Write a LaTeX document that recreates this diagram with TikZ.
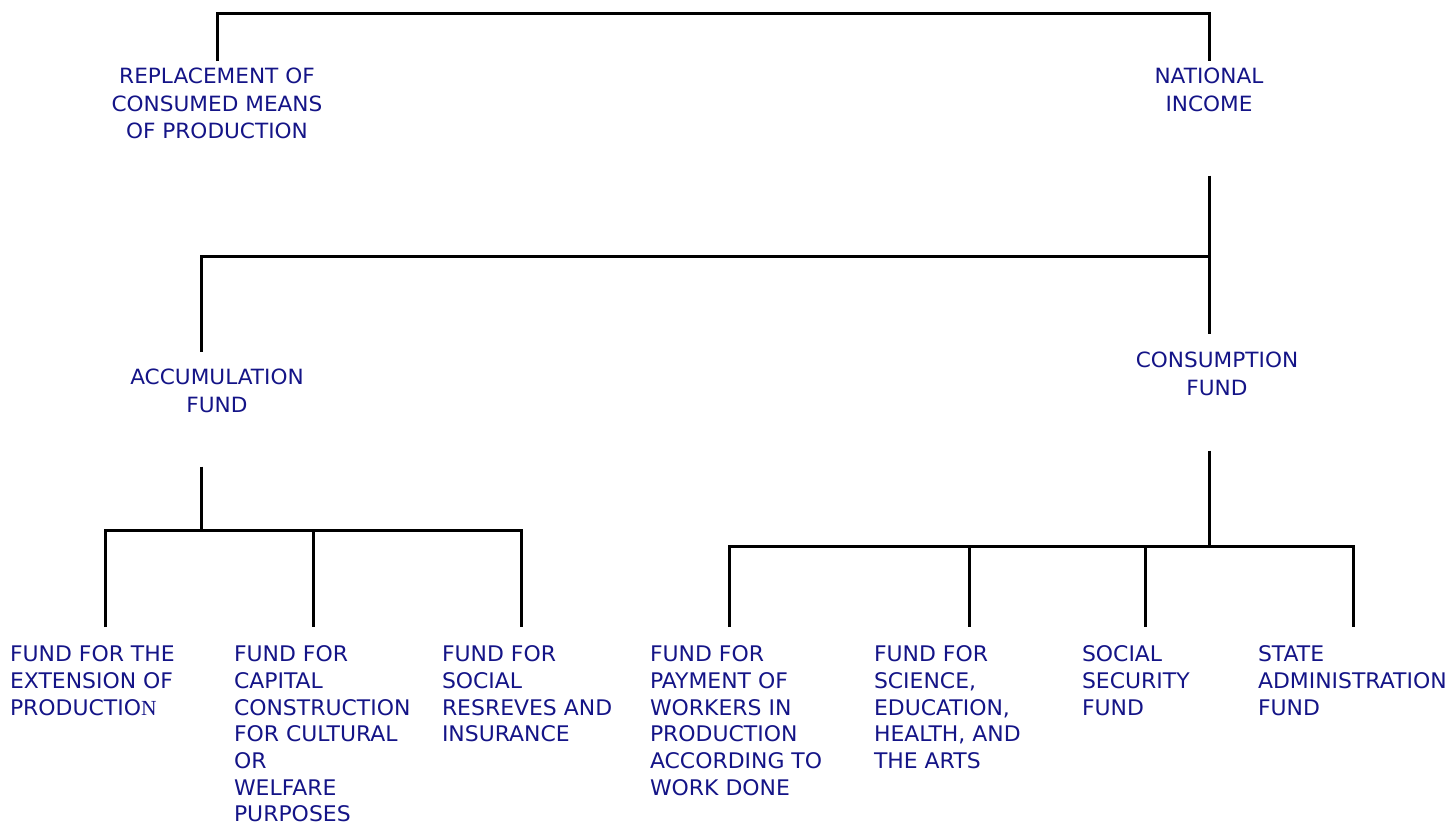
\documentclass[tikz,border=0pt]{standalone}
\usepackage{fontspec}
\usetikzlibrary{calc}
\setmainfont{DejaVu Sans}
\newfontfamily\topfont{DejaVu Sans}[FakeStretch=1.03]
\newfontfamily\botfont{DejaVu Sans}[FakeStretch=1.02]
\newfontfamily\serifN{Liberation Serif}
\definecolor{navy}{RGB}{20,20,135}
\begin{document}
\begin{tikzpicture}[x=1pt,y=-1pt,
  conn/.style={line width=3pt, draw=black},
  toplabel/.style={anchor=north, align=center, inner sep=0pt, outer sep=0pt, text=navy, font=\topfont\fontsize{21}{27.7}\selectfont},
  botlabel/.style={anchor=north west, align=left, inner sep=0pt, outer sep=0pt, text=navy, font=\botfont\fontsize{21.5}{26.67}\selectfont}]
\useasboundingbox (0,0) rectangle (1453,823);
% top-level labels
\node[toplabel] (rep) at (217,68) {REPLACEMENT OF\\CONSUMED MEANS\\OF PRODUCTION};
\node[toplabel] (ni) at (1209,68) {NATIONAL\\INCOME};
\node[toplabel] (acc) at (217,369) {ACCUMULATION\\FUND};
\node[toplabel] (con) at (1217,352) {CONSUMPTION\\FUND};
% bottom labels
\node[botlabel] (b1) at (10,646) {FUND FOR THE\\EXTENSION OF\\PRODUCTIO{\serifN N}};
\node[botlabel] (b2) at (234,646) {FUND FOR\\CAPITAL\\CONSTRUCTION\\FOR CULTURAL\\OR\\WELFARE\\PURPOSES};
\node[botlabel] (b3) at (442,646) {FUND FOR\\SOCIAL\\RESREVES AND\\INSURANCE};
\node[botlabel] (b4) at (650,646) {FUND FOR\\PAYMENT OF\\WORKERS IN\\PRODUCTION\\ACCORDING TO\\WORK DONE};
\node[botlabel] (b5) at (874,646) {FUND FOR\\SCIENCE,\\EDUCATION,\\HEALTH, AND\\THE ARTS};
\node[botlabel] (b6) at (1082,646) {SOCIAL\\SECURITY\\FUND};
\node[botlabel] (b7) at (1258,646) {STATE\\ADMINISTRATION\\FUND};
% junction coordinates
\coordinate (mid) at (1209,256);
\coordinate (aL) at (105,530);
\coordinate (aM) at (313,530);
\coordinate (aR) at (521,530);
\coordinate (cL) at (729,546);
\coordinate (cM1) at (969,546);
\coordinate (cM2) at (1145,546);
\coordinate (cR) at (1353,546);
% top bracket
\draw[conn] ($(rep.north)+(0,-7)$) |- ($(ni.north)+(0,-55)$) -- ($(ni.north)+(0,-7)$);
% national income split
\draw[conn] ($(ni.south)+(0,64)$) -- ($(con.north)+(-8,-18)$);
\draw[conn] (mid) -| ($(acc.north)+(-16,-17)$);
% accumulation fund branches
\draw[conn] ($(acc.south)+(-16,54)$) coordinate (at) -- (at |- aL);
\draw[conn] ($(aL |- b1.north)+(0,-19)$) -- (aL) -- (aR) -- ($(aR |- b3.north)+(0,-19)$);
\draw[conn] (aM) -- ($(aM |- b2.north)+(0,-19)$);
% consumption fund branches
\draw[conn] ($(con.south)+(-8,55)$) coordinate (ct) -- (ct |- cL);
\draw[conn] ($(cL |- b4.north)+(0,-19)$) -- (cL) -- (cR) -- ($(cR |- b7.north)+(0,-19)$);
\draw[conn] (cM1) -- ($(cM1 |- b5.north)+(0,-19)$);
\draw[conn] (cM2) -- ($(cM2 |- b6.north)+(0,-19)$);
\end{tikzpicture}
\end{document}
